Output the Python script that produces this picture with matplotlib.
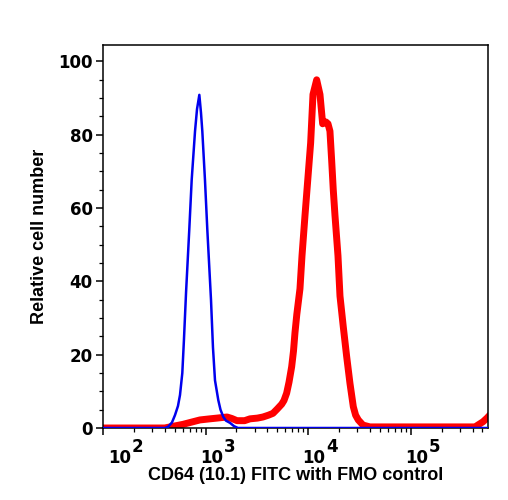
import matplotlib
matplotlib.use("Agg")
import matplotlib.pyplot as plt
from matplotlib.ticker import FixedLocator, NullFormatter, MultipleLocator

# Data (fluorescence intensity, relative cell number)
fmo_x = [100, 402, 430, 470, 503, 538, 563, 593, 615, 645, 693, 732, 789, 825, 869,
         902, 929, 986, 1040, 1129, 1180, 1235, 1330, 1397, 1490, 1581, 1730, 1893,
         2070, 566000]
fmo_y = [0, 0, 0.3, 1.5, 3.5, 6, 9, 15, 24, 37, 54, 67.7, 81, 87, 90.9,
         86, 81, 67.7, 54, 35, 22, 13, 7.6, 5, 3, 2, 1.4, 0.5,
         0, 0]

cd64_x = [100, 400, 450, 602, 881, 1100, 1291, 1618, 1800, 2024, 2400, 2710, 3200,
          3623, 4100, 4537, 5000, 5520, 5808, 6166, 6503, 6902, 7192, 7435, 7748,
          8318, 8706, 9310, 9800, 10570, 11140, 12100, 13030, 13840, 14900, 15600,
          16300, 16940, 17560, 18250, 19520, 20420, 21990, 23720, 25540, 27540,
          29000, 30790, 34200, 40000, 422700, 505800, 553000, 566000]
cd64_y = [0, 0, 0.3, 1, 2.2, 2.5, 2.7, 3, 2.6, 2, 2.0, 2.5, 2.7,
          3, 3.5, 4, 5.2, 6.5, 7.5, 9.5, 12.5, 16.7, 21, 26, 31,
          38, 47, 58, 66, 77.8, 91, 95, 91, 83, 83.5, 83,
          81, 73, 65, 58, 47, 36, 27.6, 19.5, 12.2, 5.8,
          3.5, 2.2, 0.8, 0.3, 0.3, 1.7, 2.7, 3]

decades = [1e2, 1e3, 1e4, 1e5]
exponents = ["2", "3", "4", "5"]
ytick_vals = [0, 20, 40, 60, 80, 100]

fig = plt.figure(figsize=(5.08, 5.0), dpi=100)
ax = fig.add_axes([103/508, 1 - 428/500, (488-103)/508, (428-45)/500])

ax.plot(cd64_x, cd64_y, color="#ff0000", lw=5.0, solid_joinstyle="round", zorder=2)
ax.plot(fmo_x, fmo_y, color="#0000ee", lw=1.8, solid_joinstyle="round", zorder=3)

ax.set_xscale("log")
ax.set_xlim(100, 566000)
ax.set_ylim(0, 104.5)

for s in ax.spines.values():
    s.set_linewidth(1.1)

ax.xaxis.set_major_locator(FixedLocator(decades))
minors = [m * d for d in decades for m in range(2, 10)]
ax.xaxis.set_minor_locator(FixedLocator(minors))
ax.xaxis.set_major_formatter(NullFormatter())
ax.xaxis.set_minor_formatter(NullFormatter())

ax.yaxis.set_major_locator(FixedLocator(ytick_vals))
ax.yaxis.set_minor_locator(MultipleLocator(5))
ax.tick_params(which="major", direction="out", length=5, width=1.1)
ax.tick_params(which="minor", direction="out", length=3, width=0.9)
ax.tick_params(axis="y", which="major", pad=2.5)
ax.set_yticklabels([str(v) for v in ytick_vals], fontfamily="DejaVu Sans",
                   fontweight="bold", fontsize=12)

for d, e in zip(decades, exponents):
    dx = 20 if e == "2" else 12.5
    ax.annotate("10", xy=(d, 0), xycoords=("data", "axes fraction"),
                xytext=(dx, -25.3), textcoords="offset points",
                ha="right", va="baseline", fontsize=12, fontweight="bold",
                fontfamily="DejaVu Sans", annotation_clip=False)
    ax.annotate(e, xy=(d, 0), xycoords=("data", "axes fraction"),
                xytext=(dx + 0.6, -17), textcoords="offset points",
                ha="left", va="baseline", fontsize=12, fontweight="bold",
                fontfamily="DejaVu Sans", annotation_clip=False)

fig.text((103+488)/2/508, 1 - 480/500, "CD64 (10.1) FITC with FMO control",
         ha="center", va="baseline", fontsize=13, fontweight="bold",
         fontfamily="Liberation Sans")
fig.text(40/508, 1 - 236/500, "Relative cell number", rotation=90,
         ha="center", va="center", fontsize=13, fontweight="bold",
         fontfamily="Liberation Sans")

fig.savefig("out.png", dpi=100)
